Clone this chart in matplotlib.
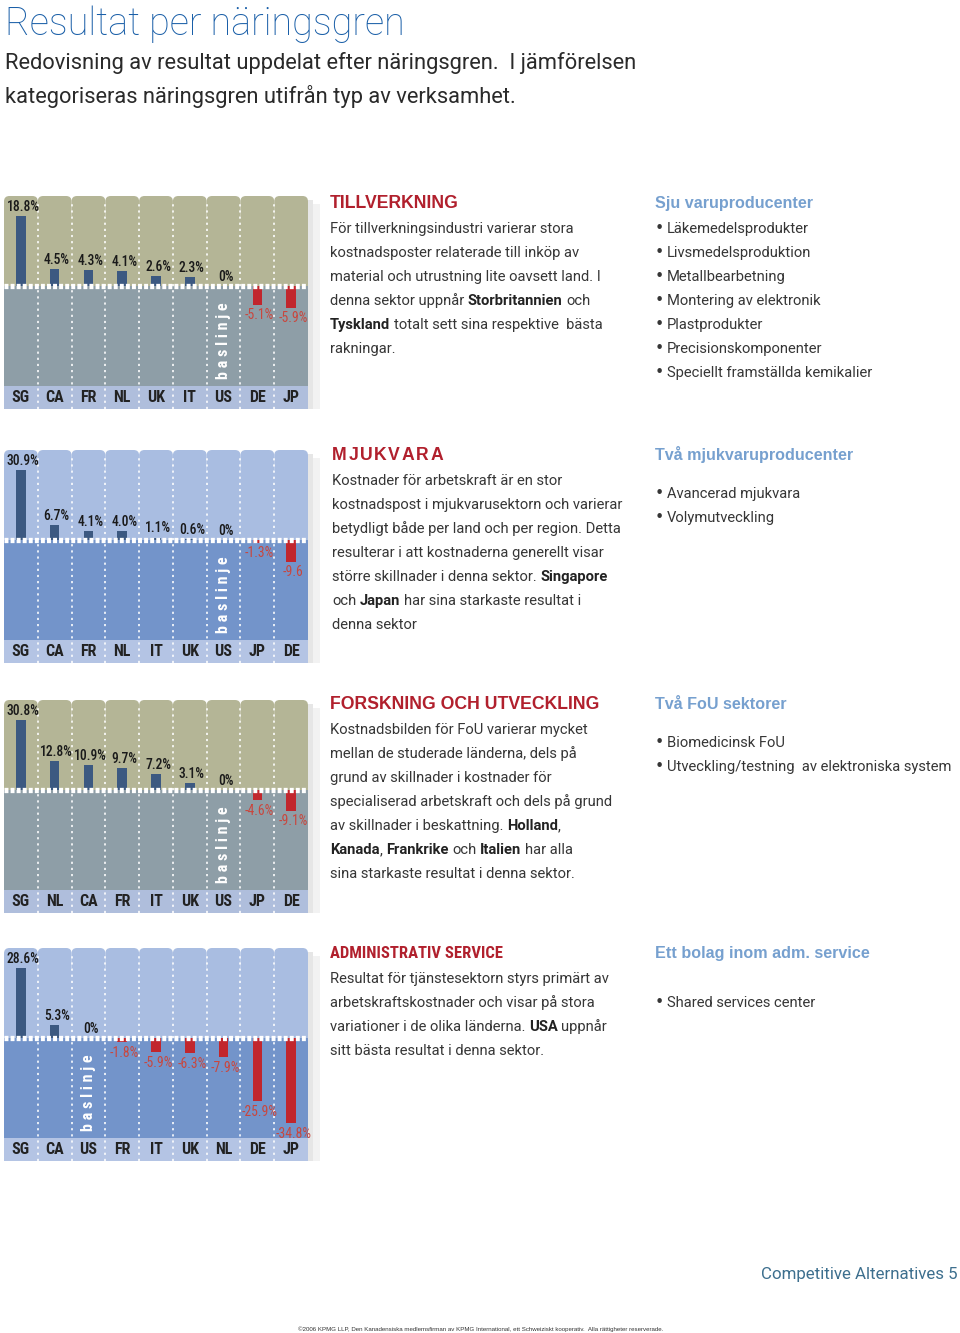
import matplotlib
matplotlib.use('Agg')
import matplotlib.pyplot as plt
import matplotlib.transforms as mtransforms
from matplotlib import font_manager
from matplotlib.font_manager import FontProperties
from matplotlib.patches import Rectangle, FancyBboxPatch

# --- data -------------------------------------------------------------
manuf_countries = ["SG", "CA", "FR", "NL", "UK", "IT", "US", "DE", "JP"]
manuf_values = [18.8, 4.5, 4.3, 4.1, 2.6, 2.3, 0.0, -5.1, -5.9]
manuf_labels = ["18.8%", "4.5%", "4.3%", "4.1%", "2.6%", "2.3%", "0%", "-5.1%", "-5.9%"]

soft_countries = ["SG", "CA", "FR", "NL", "IT", "UK", "US", "JP", "DE"]
soft_values = [30.9, 6.7, 4.1, 4.0, 1.1, 0.6, 0.0, -1.3, -9.6]
soft_labels = ["30.9%", "6.7%", "4.1%", "4.0%", "1.1%", "0.6%", "0%", "-1.3%", "-9.6"]

rd_countries = ["SG", "NL", "CA", "FR", "IT", "UK", "US", "JP", "DE"]
rd_values = [30.8, 12.8, 10.9, 9.7, 7.2, 3.1, 0.0, -4.6, -9.1]
rd_labels = ["30.8%", "12.8%", "10.9%", "9.7%", "7.2%", "3.1%", "0%", "-4.6%", "-9.1%"]

adm_countries = ["SG", "CA", "US", "FR", "IT", "UK", "NL", "DE", "JP"]
adm_values = [28.6, 5.3, 0.0, -1.8, -5.9, -6.3, -7.9, -25.9, -34.8]
adm_labels = ["28.6%", "5.3%", "0%", "-1.8%", "-5.9%", "-6.3%", "-7.9%", "-25.9%", "-34.8%"]

baseline_country = "US"

title = "Resultat per näringsgren"
subtitle = ["Redovisning av resultat uppdelat efter näringsgren.  I jämförelsen",
            "kategoriseras näringsgren utifrån typ av verksamhet."]

manuf_head = "TILLVERKNING"
manuf_text = [
    [("För tillverkningsindustri varierar stora", False)],
    [("kostnadsposter relaterade till inköp av", False)],
    [("material och utrustning lite oavsett land. I", False)],
    [("denna sektor uppnår", False), ("Storbritannien", True), ("och", False)],
    [("Tyskland", True), ("totalt sett sina respektive  bästa", False)],
    [("rakningar.", False)],
]
manuf_sub = "Sju varuproducenter"
manuf_items = ["Läkemedelsprodukter", "Livsmedelsproduktion", "Metallbearbetning",
               "Montering av elektronik", "Plastprodukter", "Precisionskomponenter",
               "Speciellt framställda kemikalier"]

soft_head = "MJUKVARA"
soft_text = [
    [("Kostnader för arbetskraft är en stor", False)],
    [("kostnadspost i mjukvarusektorn och varierar", False)],
    [("betydligt både per land och per region. Detta", False)],
    [("resulterar i att kostnaderna generellt visar", False)],
    [("större skillnader i denna sektor.", False), ("Singapore", True)],
    [("och", False), ("Japan", True), ("har sina starkaste resultat i", False)],
    [("denna sektor", False)],
]
soft_sub = "Två mjukvaruproducenter"
soft_items = ["Avancerad mjukvara", "Volymutveckling"]

rd_head = "FORSKNING OCH UTVECKLING"
rd_text = [
    [("Kostnadsbilden för FoU varierar mycket", False)],
    [("mellan de studerade länderna, dels på", False)],
    [("grund av skillnader i kostnader för", False)],
    [("specialiserad arbetskraft och dels på grund", False)],
    [("av skillnader i beskattning.", False), ("Holland", True), (",", False)],
    [("Kanada", True), (",", False), ("Frankrike", True), ("och", False),
     ("Italien", True), ("har alla", False)],
    [("sina starkaste resultat i denna sektor.", False)],
]
rd_sub = "Två FoU sektorer"
rd_items = ["Biomedicinsk FoU", "Utveckling/testning  av elektroniska system"]

adm_head = "ADMINISTRATIV SERVICE"
adm_text = [
    [("Resultat för tjänstesektorn styrs primärt av", False)],
    [("arbetskraftskostnader och visar på stora", False)],
    [("variationer i de olika länderna.", False), ("USA", True), ("uppnår", False)],
    [("sitt bästa resultat i denna sektor.", False)],
]
adm_sub = "Ett bolag inom adm. service"
adm_items = ["Shared services center"]

footer = "Competitive Alternatives 5"
copyright_text = ("©2006 KPMG LLP, Den Kanadensiska medlemsfirman av KPMG International, "
                  "ett Schweiziskt kooperativ.  Alla rättigheter reserverade.")


# --- fonts ------------------------------------------------------------
def pick(names):
    for n in names:
        try:
            font_manager.findfont(FontProperties(family=n), fallback_to_default=False)
            return n
        except Exception:
            pass
    return 'DejaVu Sans'


NARROW = pick(['Roboto Condensed', 'Archivo Narrow', 'Liberation Sans Narrow', 'DejaVu Sans'])
BODY = pick(['Roboto', 'Liberation Sans', 'DejaVu Sans'])
HEAD = pick(['Liberation Sans', 'Arimo', 'DejaVu Sans'])

W, H = 960, 1333
fig = plt.figure(figsize=(W / 100, H / 100), dpi=100)
fig.patch.set_facecolor('white')
R = fig.canvas.get_renderer()

TXT = '#363636'
RED_HEAD = '#b1202d'
BLUE_SUB = '#76a0cf'
BODY_W = 'normal'


def put(x, y, s, **kw):
    kw.setdefault('va', 'baseline')
    kw.setdefault('ha', 'left')
    return fig.text(x / W, 1 - y / H, s, **kw)


def width(t):
    return t.get_window_extent(renderer=R).width


def fit(x, y, s, target, size0=10, **kw):
    t = put(x, y, s, fontsize=size0, **kw)
    size = size0 * target / width(t)
    t.set_fontsize(size)
    return t, size


def tracked(x, y, s, extra, **kw):
    for ch in s:
        t = put(x, y, ch, **kw)
        x += width(t) + extra
    return x


# body size: fit one reference line
probe, BODY_SIZE = fit(0, -100, "För tillverkningsindustri varierar stora", 245,
                       family=BODY, fontweight=BODY_W)
probe.remove()
sp_a = put(0, -100, "a a", fontsize=BODY_SIZE, family=BODY, fontweight=BODY_W)
sp_b = put(0, -100, "aa", fontsize=BODY_SIZE, family=BODY, fontweight=BODY_W)
SPACE = width(sp_a) - width(sp_b)
sp_a.remove()
sp_b.remove()


def rich(x, y, parts):
    for j, (s, bold) in enumerate(parts):
        if j > 0 and s[0] not in ',.':
            x += SPACE
        t = put(x, y, s, fontsize=BODY_SIZE, family=BODY,
                color='#222222' if bold else TXT,
                fontweight='bold' if bold else BODY_W)
        x += width(t)


# --- header -----------------------------------------------------------
fit(5, 35, title, 400, family=BODY, fontweight='light', color='#1a5fa8')
_, sub_size = fit(5, 69, subtitle[0], 633, family=BODY, fontweight=BODY_W, color='#2a2a2a')
put(5, 103, subtitle[1], fontsize=sub_size, family=BODY, fontweight=BODY_W, color='#2a2a2a')

probe, HEAD_SIZE = fit(0, -100, manuf_head, 128, family=HEAD, fontweight='bold')
probe.remove()
probe, SUB_SIZE = fit(0, -100, manuf_sub, 158, family=HEAD, fontweight='bold')
probe.remove()

# --- panels -----------------------------------------------------------
KHAKI = ('#b4b596', '#8e9ea7', '#afbedc')
BLUE = ('#a9bde1', '#7394ca', '#b4c4e4')
POS = '#3c5981'
NEG = '#c1262d'
NEG_TXT = '#c9463d'

UP_PX, LOW_PX, STRIP_PX = 90, 100, 23
PANEL_X, PANEL_W = 4, 304


def panel(top, countries, values, labels, colors):
    upper_col, lower_col, strip_col = colors
    ppp = 70.0 / max(values)
    ax = fig.add_axes([PANEL_X / W, 1 - (top + UP_PX + LOW_PX) / H,
                       PANEL_W / W, (UP_PX + LOW_PX) / H])
    ax.set_xlim(-0.5, 8.5)
    ax.set_ylim(-LOW_PX / ppp, UP_PX / ppp)
    ax.axis('off')
    n = len(countries)
    xs = list(range(n))
    bt = mtransforms.blended_transform_factory(ax.transData, ax.transAxes)
    sh = STRIP_PX / (UP_PX + LOW_PX)

    # soft shadow on the right
    full = UP_PX + LOW_PX + STRIP_PX
    fig.patches.append(Rectangle(((PANEL_X + PANEL_W) / W, 1 - (top + full) / H),
                                 5 / W, (full - 4) / H, transform=fig.transFigure,
                                 fc='#e6e6e6', ec='none', zorder=-2))
    fig.patches.append(Rectangle(((PANEL_X + PANEL_W + 5) / W, 1 - (top + full) / H),
                                 7 / W, (full - 8) / H, transform=fig.transFigure,
                                 fc='#f2f2f2', ec='none', zorder=-2))

    # backgrounds
    ax.add_patch(Rectangle((-0.5, -LOW_PX / ppp), n, LOW_PX / ppp, fc=lower_col, ec='none', zorder=0))
    ax.add_patch(Rectangle((-0.5, 0), n, (UP_PX - 20) / ppp, fc=upper_col, ec='none', zorder=0))
    px_x = PANEL_W / n
    for i in xs:
        ax.add_patch(FancyBboxPatch((i - 0.5, 0), 1, UP_PX / ppp,
                                    boxstyle="round,pad=0,rounding_size=0.16",
                                    mutation_aspect=px_x / ppp,
                                    fc=upper_col, ec='none', zorder=0.5))
    ax.add_patch(Rectangle((-0.5, -sh), n, sh, transform=bt, fc=strip_col, ec='none',
                           zorder=0, clip_on=False))

    # dotted column separators
    for i in xs[:-1]:
        ax.plot([i + 0.5, i + 0.5], [-sh, 1 - 6 / (UP_PX + LOW_PX)], transform=bt,
                color='white', lw=1.3, ls=(0, (1.2, 2.2)), alpha=0.9, zorder=2,
                clip_on=False, solid_capstyle='butt')

    # bars
    ax.bar(xs, values, width=0.28, color=[POS if v > 0 else NEG for v in values],
           zorder=3, linewidth=0)

    # dashed baseline
    ax.axhline(0, color='white', lw=3.8, dashes=(0.75, 0.4), zorder=4, solid_capstyle='butt')

    for i, (v, lab) in enumerate(zip(values, labels)):
        if v >= 0:
            ax.annotate(lab, (i, v), xytext=(1.5, 1.5), textcoords='offset points',
                        ha='center', va='bottom', fontsize=9.8, family=NARROW,
                        fontweight='medium', color='#1a1a1a', zorder=5)
        else:
            ax.annotate(lab, (i, v), xytext=(1.5, -2.5), textcoords='offset points',
                        ha='center', va='top', fontsize=9.8, family=NARROW,
                        fontweight='normal', color=NEG_TXT, zorder=5)
        ax.text(i, -sh / 2, countries[i], transform=bt, ha='center', va='center',
                fontsize=11.5, family=NARROW, fontweight='bold', color='#222222',
                zorder=5, clip_on=False)

    b = countries.index(baseline_country)
    ax.text(b, -55 / ppp, "b a s l i n j e", rotation=90, ha='center', va='center',
            color='white', fontsize=11.5, family=NARROW, fontweight='bold', zorder=5)
    return ax


def text_block(x, top_base, head, lines, sub, items, head_track=0.0, head_family=None,
               head_size=None, bullet_first=None):
    hf = head_family or HEAD
    hs = head_size or HEAD_SIZE
    if head_track:
        tracked(x, top_base, head, head_track, fontsize=hs, family=hf,
                fontweight='bold', color=RED_HEAD)
    else:
        put(x, top_base, head, fontsize=hs, family=hf, fontweight='bold', color=RED_HEAD)
    for k, parts in enumerate(lines):
        rich(x, top_base + 25 + 24 * k, parts)
    put(655, top_base, sub, fontsize=SUB_SIZE, family=HEAD, fontweight='bold', color=BLUE_SUB)
    first = bullet_first if bullet_first is not None else top_base + 25
    for k, item in enumerate(items):
        y = first + 24 * k
        put(655, y, "•", fontsize=BODY_SIZE * 1.05, family='DejaVu Sans', color=TXT)
        put(667, y, item, fontsize=BODY_SIZE, family=BODY, fontweight=BODY_W, color=TXT)


panel(196, manuf_countries, manuf_values, manuf_labels, KHAKI)
text_block(330, 208, manuf_head, manuf_text, manuf_sub, manuf_items)

panel(450, soft_countries, soft_values, soft_labels, BLUE)
text_block(332, 460, soft_head, soft_text, soft_sub, soft_items, head_track=1.6,
           bullet_first=498)

panel(700, rd_countries, rd_values, rd_labels, KHAKI)
text_block(330, 709, rd_head, rd_text, rd_sub, rd_items, bullet_first=747)

probe, ADM_SIZE = fit(0, -100, adm_head, 173, family=NARROW, fontweight='bold')
probe.remove()
panel(948, adm_countries, adm_values, adm_labels, BLUE)
text_block(330, 958, adm_head, adm_text, adm_sub, adm_items, head_family=NARROW,
           head_size=ADM_SIZE, bullet_first=1007)

# --- footer -----------------------------------------------------------
fit(761, 1279, footer, 197, family=BODY, fontweight=BODY_W, color='#3d6f8e')
fit(298, 1331, copyright_text, 366, family=HEAD, color='#333333')

fig.savefig('out.png', dpi=100, facecolor='white')
